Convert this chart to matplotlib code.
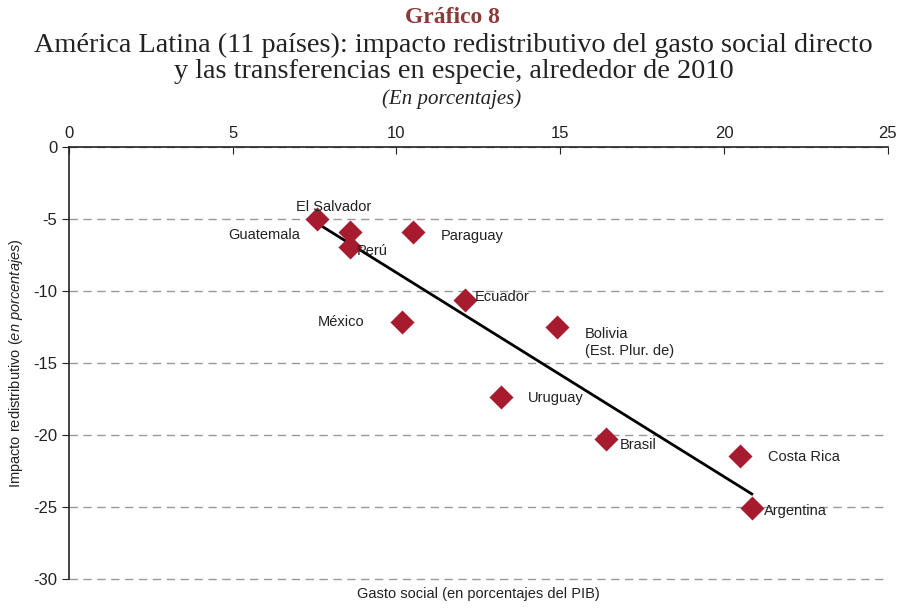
import numpy as np
import matplotlib
matplotlib.use('Agg')
import matplotlib.pyplot as plt

plt.rcParams['font.family'] = ['Liberation Sans', 'DejaVu Sans']
plt.rcParams['axes.unicode_minus'] = False
plt.rcParams['mathtext.fontset'] = 'custom'
plt.rcParams['mathtext.rm'] = 'Liberation Sans'
plt.rcParams['mathtext.it'] = 'Liberation Sans:italic'

# datos
paises = ['El Salvador', 'Guatemala', 'Perú', 'Paraguay', 'Ecuador', 'México',
          'Bolivia\n(Est. Plur. de)', 'Uruguay', 'Brasil', 'Costa Rica', 'Argentina']
gasto = [7.57, 8.58, 8.58, 10.5, 12.09, 10.16, 14.9, 13.2, 16.39, 20.5, 20.85]
impacto = [-5.0, -5.9, -6.94, -5.9, -10.6, -12.15, -12.5, -17.36, -20.28, -21.46, -25.1]

# desplazamiento de etiquetas (puntos) y alineacion
offsets = {
    'El Salvador': ((12, 9), 'center'),
    'Guatemala': ((-36, -2), 'right'),
    'Perú': ((5, -3), 'left'),
    'Paraguay': ((20, -3), 'left'),
    'Ecuador': ((7, 2), 'left'),
    'México': ((-27, 0), 'right'),
    'Bolivia\n(Est. Plur. de)': ((20, -7), 'left'),
    'Uruguay': ((19, -1), 'left'),
    'Brasil': ((10, -4), 'left'),
    'Costa Rica': ((20, -1), 'left'),
    'Argentina': ((9, -2), 'left'),
}

fig = plt.figure(figsize=(9.04, 6.09), dpi=100)
ax = fig.add_axes([0.0763, 0.0493, 0.9057, 0.7093])

ax.scatter(gasto, impacto, marker='D', s=150, color='#A61B2E', zorder=3, linewidths=0)

# recta de tendencia
m, b = np.polyfit(gasto, impacto, 1)
xs = np.array([min(gasto), max(gasto)])
ax.plot(xs, m * xs + b, color='black', lw=2, zorder=2)

for p, x, y in zip(paises, gasto, impacto):
    (dx, dy), ha = offsets[p]
    va = 'top' if '\n' in p else 'center'
    if '\n' in p:
        dy += 7
    ax.annotate(p, (x, y), xytext=(dx, dy), textcoords='offset points',
                ha=ha, va=va, fontsize=10.5, color='#222222', linespacing=1.3)

ax.set_xlim(0, 25)
ax.set_ylim(-30, 0)
ax.xaxis.tick_top()
ax.set_xticks(range(0, 26, 5))
ax.set_yticks(range(-30, 1, 5))
ax.tick_params(axis='x', direction='in', length=5, labelsize=12, pad=4, colors='#222222')
ax.tick_params(axis='y', direction='out', length=5, labelsize=12, colors='#222222')
for s in ['right', 'bottom']:
    ax.spines[s].set_visible(False)
for s in ['top', 'left']:
    ax.spines[s].set_color('#222222')
    ax.spines[s].set_linewidth(1.2)
ax.grid(axis='y', color='#999999', linestyle=(0, (6, 4)), lw=1)
for gl in ax.get_ygridlines():
    gl.set_clip_on(False)
ax.set_axisbelow(True)

ax.set_ylabel('Impacto redistributivo ($\\it{en\\ porcentajes}$)', fontsize=10.5, color='#222222')
ax.set_xlabel('Gasto social (en porcentajes del PIB)', fontsize=10.5, color='#222222', labelpad=6)
ax.yaxis.set_label_coords(-0.054, 0.5)

fig.text(0.5, 0.971, 'Gráfico 8', ha='center', va='center', fontsize=17,
         color='#8B3A3A', family='Liberation Serif', weight='bold')
fig.text(0.502, 0.926, 'América Latina (11 países): impacto redistributivo del gasto social directo',
         ha='center', va='center', fontsize=20.3, color='#222222', family='Liberation Serif')
fig.text(0.502, 0.883, 'y las transferencias en especie, alrededor de 2010',
         ha='center', va='center', fontsize=20.3, color='#222222', family='Liberation Serif')
fig.text(0.5, 0.837, '(En porcentajes)', ha='center', va='center', fontsize=15,
         style='italic', color='#222222', family='Liberation Serif')

plt.savefig('out.png', dpi=100)
